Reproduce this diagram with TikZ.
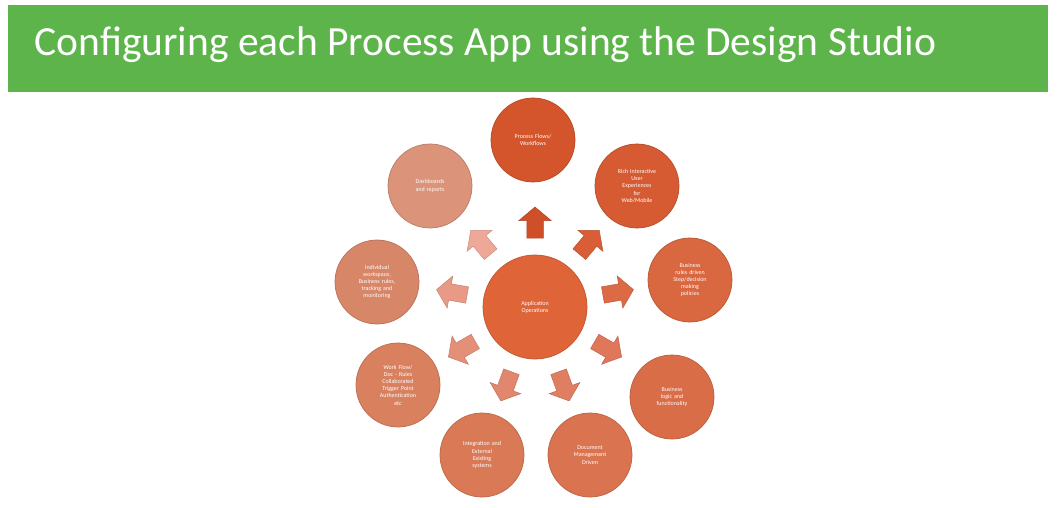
\documentclass[tikz,border=0pt]{standalone}
\usepackage{fontspec}
\setmainfont{Carlito}
\usetikzlibrary{shapes.arrows,calc}
\definecolor{banner}{HTML}{5CB44A}
\definecolor{cA}{HTML}{D4552B}
\definecolor{cB}{HTML}{D65B33}
\definecolor{cC}{HTML}{D9673F}
\definecolor{cD}{HTML}{D96D48}
\definecolor{cE}{HTML}{DA734F}
\definecolor{cF}{HTML}{DA7955}
\definecolor{cG}{HTML}{D9805F}
\definecolor{cH}{HTML}{D78668}
\definecolor{cI}{HTML}{DB9379}
\definecolor{cCen}{HTML}{DF6438}
\definecolor{aA}{HTML}{CF5028}
\definecolor{aB}{HTML}{D95E38}
\definecolor{aC}{HTML}{DC6A45}
\definecolor{aD}{HTML}{E0765A}
\definecolor{aE}{HTML}{E07E62}
\definecolor{aF}{HTML}{E2876E}
\definecolor{aG}{HTML}{E48F78}
\definecolor{aH}{HTML}{E89A87}
\definecolor{aI}{HTML}{EDA898}
\begin{document}
\begin{tikzpicture}[x=1pt,y=1pt,
  bubble/.style={circle, minimum size=84pt, inner sep=0pt, text=white,
    font=\fontsize{6}{7.2}\selectfont, align=center, text width=56pt,
    fill=#1, draw=#1!85!black, line width=0.7pt},
  hub/.style={bubble=#1, minimum size=104pt},
  blockarrow/.style={single arrow, fill=#1, draw=#1!85!black, line width=0.5pt,
    minimum height=31pt, minimum width=32pt, inner sep=8pt,
    single arrow head extend=8pt, single arrow tip angle=100},
  title/.style={text=white, font=\fontsize{41.5}{46}\selectfont, anchor=west}
]
\useasboundingbox (0,0) rectangle (1058,-508);
\fill[white] (0,0) rectangle (1058,-508);
\node[fill=banner, minimum width=1040pt, minimum height=87pt, inner sep=0pt, anchor=north west] (banner) at (8,-5) {};
\node[title] (t) at (31,-45) {Configuring each Process App using the Design Studio};

\node[hub=cCen] (c0) at (535,-307) {Application\\Operations};

\node[bubble=cA] (n1) at (533,-140) {Process Flows/\\Workflows};
\node[bubble=cB] (n2) at (637,-186) {Rich Interactive\\User\\Experiences\\for\\Web/Mobile};
\node[bubble=cC] (n3) at (690,-280) {Business\\rules driven\\Step/decision\\making\\policies};
\node[bubble=cD] (n4) at (672,-397) {Business\\logic and\\functionality};
\node[bubble=cE] (n5) at (590,-455) {Document\\Management\\Driven};
\node[bubble=cF] (n6) at (482,-455) {Integration and\\External\\Existing\\systems};
\node[bubble=cG] (n7) at (398,-385) {Work Flow/\\Doc - Rules\\Collaborated\\Trigger Point\\Authentication\\etc};
\node[bubble=cH] (n8) at (377,-282) {Individual\\workspace,\\Business rules,\\tracking and\\monitoring};
\node[bubble=cI] (n9) at (430,-186) {Dashboards\\and reports};

\foreach \a/\ang/\col in {1/90/aA,2/50/aB,3/10/aC,4/-30/aD,5/-70/aE,6/-110/aF,7/-150/aG,8/170/aH,9/130/aI}{
  \node[blockarrow=\col, rotate=\ang] (a\a) at ($(c0)+(\ang:81)$) {};
}
\end{tikzpicture}
\end{document}
